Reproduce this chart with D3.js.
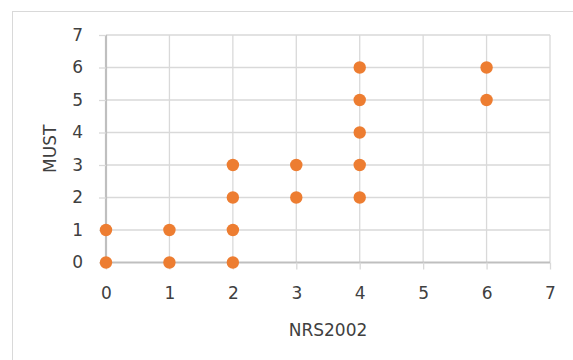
<!DOCTYPE html>
<html>
<head>
<meta charset="utf-8">
<script src="https://cdn.jsdelivr.net/npm/d3@7"></script>
<style>
  html, body { margin: 0; padding: 0; background: #fff; }
  svg { display: block; }
  text { font-family: "DejaVu Sans", "Noto Sans", sans-serif; fill: #404040; }
</style>
</head>
<body>
<svg id="chart" width="573" height="360"></svg>
<script>
// NRS2002 vs MUST scores
const nrsScores  = [0, 0, 1, 1, 2, 2, 2, 2, 3, 3, 4, 4, 4, 4, 4, 6, 6];
const mustScores = [0, 1, 0, 1, 0, 1, 2, 3, 2, 3, 2, 3, 4, 5, 6, 5, 6];
const xTicks = [0, 1, 2, 3, 4, 5, 6, 7];
const yTicks = [0, 1, 2, 3, 4, 5, 6, 7];

const svg = d3.select("#chart");
const W = 573, H = 360;
const margin = { left: 106, right: 23, top: 35, bottom: 97.5 };
const FONT = '"DejaVu Sans", "Noto Sans", sans-serif';

// Outer chart frame (extends past the right and bottom edges)
svg.append("rect")
  .attr("x", 12.5).attr("y", 11.5)
  .attr("width", 600).attr("height", 400)
  .attr("fill", "#fff").attr("stroke", "#d9d9d9").attr("stroke-width", 1);

const x = d3.scaleLinear().domain([0, 7]).range([margin.left, W - margin.right]);
const y = d3.scaleLinear().domain([0, 7]).range([H - margin.bottom, margin.top]);

// Gridlines
const grid = svg.append("g");
grid.selectAll("line.v").data(xTicks.slice(1)).join("line")
  .attr("x1", d => x(d)).attr("x2", d => x(d))
  .attr("y1", y(7)).attr("y2", y(0))
  .attr("stroke", "#d9d9d9").attr("stroke-width", 1.3);
grid.selectAll("line.h").data(yTicks.slice(1)).join("line")
  .attr("x1", x(0)).attr("x2", x(7))
  .attr("y1", d => y(d)).attr("y2", d => y(d))
  .attr("stroke", "#d9d9d9").attr("stroke-width", 1.3);

// Axes
const xAxis = d3.axisBottom(x).tickValues(xTicks).tickSize(7).tickPadding(17).tickFormat(d3.format("d"));
const yAxis = d3.axisLeft(y).tickValues(yTicks).tickSize(7).tickPadding(16).tickFormat(d3.format("d"));

const gx = svg.append("g").attr("transform", `translate(0,${y(0)})`).call(xAxis);
const gy = svg.append("g").attr("transform", `translate(${x(0)},0)`).call(yAxis);

[gx, gy].forEach(g => {
  g.select(".domain").attr("stroke", "#bfbfbf").attr("stroke-width", 2.2);
  g.selectAll(".tick line").attr("stroke", "#d9d9d9").attr("stroke-width", 1.3);
  g.selectAll(".tick text")
    .style("font-family", FONT)
    .style("font-size", "17px").attr("fill", "#404040");
});
gx.select(".domain").attr("d", `M${x(0)},0H${x(7)}`);
gy.select(".domain").attr("d", `M0,${y(0)}V${y(7)}`);

// Axis titles
svg.append("text")
  .attr("x", (x(0) + x(7)) / 2).attr("y", 336)
  .attr("text-anchor", "middle")
  .style("font-size", "17px")
  .text("NRS2002");
svg.append("text")
  .attr("transform", `translate(56,${(y(0) + y(7)) / 2}) rotate(-90)`)
  .attr("text-anchor", "middle")
  .style("font-size", "17px")
  .text("MUST");

// Points
svg.append("g").selectAll("circle")
  .data(nrsScores.map((v, i) => [v, mustScores[i]]))
  .join("circle")
  .attr("cx", d => x(d[0]))
  .attr("cy", d => y(d[1]))
  .attr("r", 6.2)
  .attr("fill", "#ED7D31");
</script>
</body>
</html>
